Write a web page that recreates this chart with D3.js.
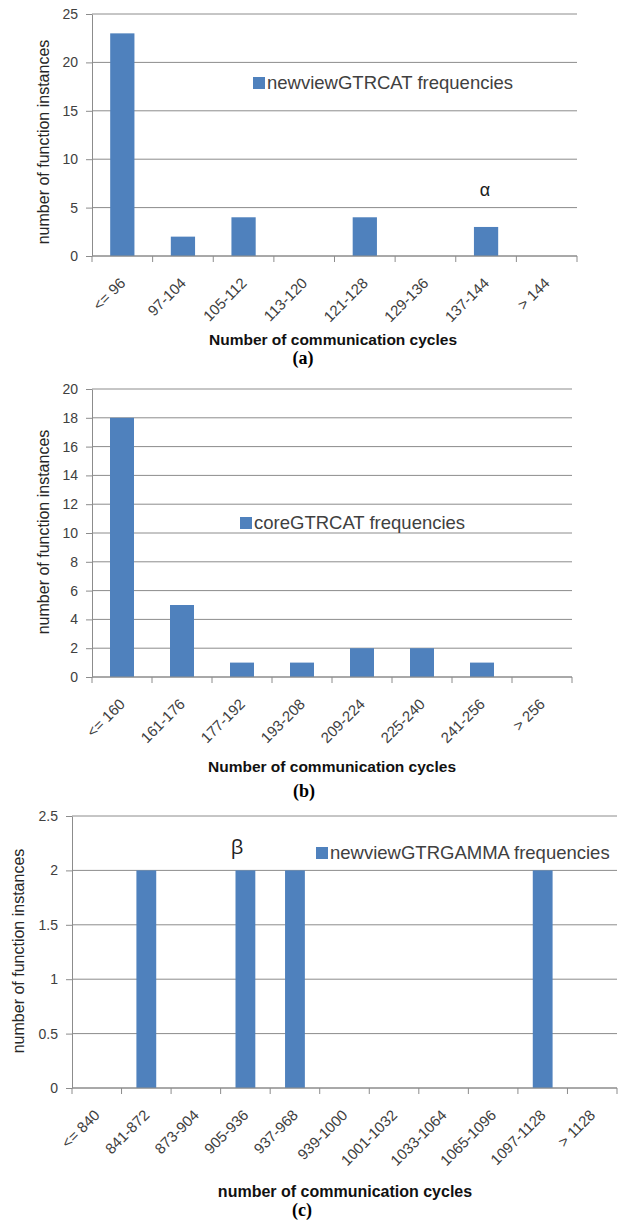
<!DOCTYPE html>
<html>
<head>
<meta charset="utf-8">
<script src="https://cdnjs.cloudflare.com/ajax/libs/d3/7.8.5/d3.min.js"></script>
<style>
  body { margin: 0; background: #fff; }
  text { font-family: "Liberation Sans", Arial, sans-serif; }
</style>
</head>
<body>
<div id="chart"></div>
<script>
// panel (a)
var catsA = ["<= 96", "97-104", "105-112", "113-120", "121-128", "129-136", "137-144", "> 144"];
var valsA = [23, 2, 4, 0, 4, 0, 3, 0];
var ticksA = [0, 5, 10, 15, 20, 25];

// panel (b)
var catsB = ["<= 160", "161-176", "177-192", "193-208", "209-224", "225-240", "241-256", "> 256"];
var valsB = [18, 5, 1, 1, 2, 2, 1, 0];
var ticksB = [0, 2, 4, 6, 8, 10, 12, 14, 16, 18, 20];

// panel (c)
var catsC = ["<= 840", "841-872", "873-904", "905-936", "937-968", "939-1000", "1001-1032", "1033-1064", "1065-1096", "1097-1128", "> 1128"];
var valsC = [0, 2, 0, 2, 2, 0, 0, 0, 0, 2, 0];
var ticksC = [0, 0.5, 1, 1.5, 2, 2.5];

var barColor = "#4f81bd";
var gridColor = "#8c8c8c";

var svg = d3.select("#chart").append("svg")
    .attr("width", 618)
    .attr("height", 1223);

function drawPanel(opt) {
    var g = svg.append("g");

    var x = d3.scaleBand()
        .domain(opt.cats)
        .range([opt.left, opt.right])
        .paddingInner(0.6)
        .paddingOuter(0.3);
    var y = d3.scaleLinear()
        .domain([0, d3.max(opt.ticks)])
        .range([opt.bottom, opt.top]);

    // gridlines
    g.selectAll(".grid")
        .data(opt.ticks)
        .enter()
        .append("line")
        .attr("x1", opt.left)
        .attr("x2", opt.right)
        .attr("y1", d => y(d))
        .attr("y2", d => y(d))
        .attr("stroke", gridColor)
        .attr("stroke-width", 1);

    // bars
    g.selectAll(".bar")
        .data(opt.vals)
        .enter()
        .append("rect")
        .attr("x", (d, i) => x(opt.cats[i]))
        .attr("y", d => y(d))
        .attr("width", x.bandwidth())
        .attr("height", d => opt.bottom - y(d))
        .attr("fill", barColor);

    // y axis
    var yAxis = d3.axisLeft(y)
        .tickValues(opt.ticks)
        .tickFormat(d3.format("~g"))
        .tickSize(6)
        .tickSizeOuter(0);
    var ya = g.append("g")
        .attr("transform", `translate(${opt.left},0)`)
        .call(yAxis);
    ya.select(".domain").attr("stroke", gridColor);
    ya.selectAll(".tick line").attr("stroke", gridColor);
    ya.selectAll(".tick text")
        .attr("x", -14)
        .style("font-size", "14px")
        .style("font-family", "Liberation Sans, Arial, sans-serif")
        .attr("fill", "#404040");

    // x axis: tick marks at band boundaries
    var step = x.step();
    var bounds = d3.range(opt.cats.length + 1).map(i => opt.left + i * step);
    g.append("line")
        .attr("x1", opt.left).attr("x2", opt.right)
        .attr("y1", opt.bottom).attr("y2", opt.bottom)
        .attr("stroke", gridColor);
    g.selectAll(".xtick")
        .data(bounds)
        .enter()
        .append("line")
        .attr("x1", d => d).attr("x2", d => d)
        .attr("y1", opt.bottom).attr("y2", opt.bottom + 6)
        .attr("stroke", gridColor);

    g.selectAll(".xlab")
        .data(opt.cats)
        .enter()
        .append("text")
        .attr("transform", d => `translate(${x(d) + x.bandwidth() / 2 + 4},${opt.bottom + 28}) rotate(-45)`)
        .attr("text-anchor", "end")
        .style("font-size", "15px")
        .attr("fill", "#404040")
        .text(d => d);

    // y title
    g.append("text")
        .attr("transform", `translate(${opt.yTitleX},${opt.yTitleY}) rotate(-90)`)
        .attr("text-anchor", "middle")
        .attr("dy", "0.35em")
        .style("font-size", "16px")
        .attr("fill", "#262626")
        .text("number of function instances");

    // x title
    g.append("text")
        .attr("x", opt.xTitleX)
        .attr("y", opt.xTitleY)
        .attr("text-anchor", "middle")
        .attr("dy", "0.35em")
        .style("font-size", opt.xTitleFont + "px")
        .style("font-weight", "bold")
        .attr("fill", "#111")
        .text(opt.xTitle);

    // panel caption
    g.append("text")
        .attr("x", opt.capX)
        .attr("y", opt.capY)
        .attr("text-anchor", "middle")
        .attr("dy", "0.35em")
        .style("font-family", "Liberation Serif, Times New Roman, serif")
        .style("font-size", "18px")
        .style("font-weight", "bold")
        .text(opt.cap);

    // legend
    g.append("rect")
        .attr("x", opt.legX)
        .attr("y", opt.legY - 6)
        .attr("width", 12)
        .attr("height", 12)
        .attr("fill", barColor);
    g.append("text")
        .attr("x", opt.legX + 14)
        .attr("y", opt.legY)
        .attr("dy", "0.35em")
        .style("font-size", "18.5px")
        .attr("fill", "#404040")
        .text(opt.legText);

    // greek marker
    if (opt.mark) {
        g.append("text")
            .attr("x", opt.markX)
            .attr("y", opt.markY)
            .attr("text-anchor", "middle")
            .attr("dy", "0.35em")
            .style("font-family", opt.markFamily)
            .style("font-size", opt.markFont + "px")
            .attr("fill", "#202020")
            .text(opt.mark);
    }
}

drawPanel({
    cats: catsA, vals: valsA, ticks: ticksA,
    left: 92, right: 577, top: 14, bottom: 256,
    yTitleX: 43, yTitleY: 142,
    xTitle: "Number of communication cycles", xTitleX: 333, xTitleY: 340, xTitleFont: 15.5,
    cap: "(a)", capX: 303, capY: 358,
    legX: 253, legY: 83, legText: "newviewGTRCAT frequencies",
    mark: "\u03b1", markX: 485, markY: 190, markFont: 18, markFamily: "Liberation Sans, Arial, sans-serif"
});

drawPanel({
    cats: catsB, vals: valsB, ticks: ticksB,
    left: 92, right: 572, top: 389, bottom: 677,
    yTitleX: 43, yTitleY: 532,
    xTitle: "Number of communication cycles", xTitleX: 332, xTitleY: 767, xTitleFont: 15.5,
    cap: "(b)", capX: 304, capY: 791,
    legX: 240, legY: 523, legText: "coreGTRCAT frequencies"
});

drawPanel({
    cats: catsC, vals: valsC, ticks: ticksC,
    left: 72, right: 617, top: 816, bottom: 1088,
    yTitleX: 18, yTitleY: 951,
    xTitle: "number of communication cycles", xTitleX: 345, xTitleY: 1191, xTitleFont: 16,
    cap: "(c)", capX: 302, capY: 1210,
    legX: 316, legY: 853, legText: "newviewGTRGAMMA frequencies",
    mark: "\u03b2", markX: 237, markY: 847, markFont: 20, markFamily: "Open Sans, DejaVu Sans, sans-serif"
});
</script>
</body>
</html>
